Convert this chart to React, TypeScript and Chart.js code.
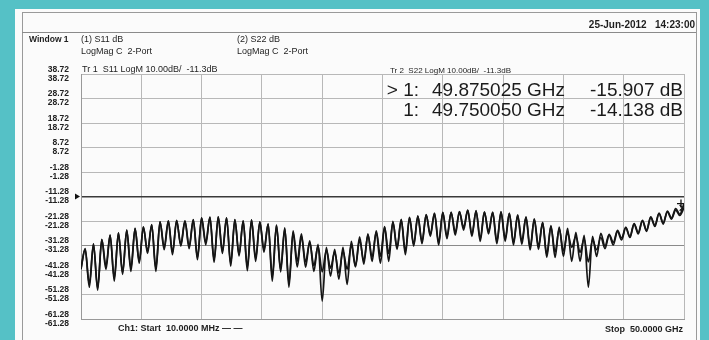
import React, { useEffect, useRef } from "react";
import { Chart, registerables } from "chart.js";

Chart.register(...registerables);

// ---- data ----
const START_GHZ = 0.01;
const STOP_GHZ = 50;
const REF_DB = -11.3;
const X_DIVISIONS = 10;
const yTicks = [-61.28, -51.28, -41.28, -31.28, -21.28, -11.28, -1.28, 8.72, 18.72, 28.72, 38.72];

// Tr 1: S11 LogM (peaks and dips of the ripple, in sweep order)
const s11Db = [
  -41.0,
  -32.8, -48.3, -30.8, -48.7, -28.8, -39.7, -27.1, -45.8, -26.1, -42.2,
  -25.1, -41.8, -24.3, -37.7, -23.7, -33.6, -22.7, -41.8, -21.6, -32.0,
  -21.2, -34.0, -21.2, -30.8, -21.2, -31.6, -20.8, -36.1, -20.0, -30.0,
  -19.8, -38.1, -19.6, -33.6, -20.0, -39.7, -20.8, -34.9, -21.2, -40.1,
  -20.8, -37.7, -21.6, -32.8, -22.5, -45.8, -22.9, -40.9, -24.1, -48.3,
  -25.3, -37.7, -26.5, -40.1, -29.4, -41.8, -30.8, -54.0, -32.0, -43.8,
  -32.8, -45.0, -32.0, -47.1, -29.6, -39.7, -27.7, -38.9, -26.5, -37.7,
  -25.3, -35.7, -23.5, -37.7, -21.4, -32.8, -20.8, -33.6, -19.8, -30.8,
  -19.4, -29.6, -18.8, -26.7, -18.0, -30.0, -17.8, -27.5, -17.8, -25.9,
  -17.4, -23.9, -16.8, -26.7, -17.2, -29.6, -17.6, -25.5, -17.6, -29.6,
  -17.6, -29.6, -18.0, -30.0, -19.0, -30.8, -19.6, -32.0, -20.6, -32.8,
  -21.8, -34.9, -23.1, -36.1, -23.7, -35.7, -24.3, -37.7, -25.9, -37.7,
  -27.1, -48.3, -27.5, -35.7, -26.3, -31.5, -26.7, -30.0, -25.1, -28.2,
  -23.9, -27.6, -22.3, -26.0, -21.0, -25.0, -19.6, -23.5, -18.2, -22.0,
  -17.5, -20.5, -16.8, -19.0,
  -15.9,
];

// Tr 2: S22 LogM
const s22Db = [
  -40.5,
  -32.5, -47.0, -30.6, -49.5, -28.9, -41.0, -27.0, -44.5, -26.2, -43.0,
  -25.0, -40.5, -24.4, -38.5, -23.6, -34.5, -22.8, -40.5, -21.5, -33.0,
  -21.3, -35.0, -21.0, -31.5, -21.3, -32.5, -20.7, -37.0, -20.1, -31.0,
  -19.7, -37.0, -19.7, -34.5, -20.1, -38.5, -20.7, -35.5, -21.3, -41.5,
  -20.9, -36.5, -21.7, -34.0, -22.4, -44.0, -23.0, -42.0, -24.5, -46.5,
  -26.0, -40.0, -27.5, -38.0, -30.0, -39.5, -31.5, -42.0, -33.0, -40.5,
  -34.0, -42.5, -33.5, -41.0, -31.0, -40.0, -29.0, -37.5, -27.0, -36.0,
  -25.8, -38.5, -23.8, -34.5, -21.8, -32.0, -20.6, -35.0, -19.9, -31.5,
  -19.2, -30.5, -18.7, -27.5, -18.2, -31.0, -17.7, -28.5, -17.6, -27.0,
  -17.5, -25.0, -16.9, -27.5, -17.0, -28.5, -17.5, -26.5, -17.8, -30.5,
  -17.4, -28.5, -18.2, -31.0, -18.8, -29.5, -19.8, -33.0, -20.4, -31.5,
  -22.0, -36.0, -23.5, -34.0, -24.5, -33.5, -26.0, -32.0, -27.5, -34.0,
  -28.5, -38.0, -29.0, -33.0, -28.0, -32.5, -27.0, -31.0, -25.5, -29.0,
  -24.0, -28.0, -22.5, -26.5, -21.2, -25.5, -19.8, -23.0, -18.0, -22.5,
  -17.2, -20.0, -16.2, -18.5,
  -14.1,
];

const markerGHz = [49.875025, 49.75005];
const markerDb = [-15.907, -14.138];
const markerLabels = ["> 1:", "1:"];

// ---- styles ----
const FONT = '"Liberation Sans", Arial, sans-serif';
const TEAL = "#55c1c6";
const INK = "#151515";

const sweep = (n: number) =>
  Array.from({ length: n }, (_, i) => START_GHZ + (i * (STOP_GHZ - START_GHZ)) / (n - 1));

const refPointer = {
  id: "refPointer",
  afterDraw(chart: any) {
    const { ctx, chartArea, scales } = chart;
    const y = scales.y.getPixelForValue(REF_DB);
    const x = chartArea.left;
    ctx.save();
    ctx.fillStyle = "#111";
    ctx.beginPath();
    ctx.moveTo(x - 6, y - 3);
    ctx.lineTo(x - 1, y);
    ctx.lineTo(x - 6, y + 3);
    ctx.closePath();
    ctx.fill();
    ctx.restore();
  },
};

function T(props: {
  x: number;
  y: number;
  size?: number;
  bold?: boolean;
  right?: boolean;
  color?: string;
  children: React.ReactNode;
}) {
  const { x, y, size = 9, bold = false, right = false, color = "#1e1e1e", children } = props;
  const style: React.CSSProperties = {
    position: "absolute",
    top: y,
    transform: "translateY(-50%)",
    fontFamily: FONT,
    fontSize: size,
    fontWeight: bold ? 700 : 400,
    color,
    whiteSpace: "pre",
    lineHeight: 1,
  };
  if (right) style.right = 709 - x;
  else style.left = x;
  return <div style={style}>{children}</div>;
}

export default function App() {
  const canvasRef = useRef<HTMLCanvasElement | null>(null);

  useEffect(() => {
    if (!canvasRef.current) return;
    const f11 = sweep(s11Db.length);
    const f22 = sweep(s22Db.length);
    const chart = new Chart(canvasRef.current, {
      type: "line",
      data: {
        datasets: [
          {
            label: "S22",
            data: s22Db.map((v, i) => ({ x: f22[i], y: v })),
            borderColor: INK,
            borderWidth: 1.7,
            pointRadius: 0,
            cubicInterpolationMode: "monotone",
          },
          {
            label: "S11",
            data: s11Db.map((v, i) => ({ x: f11[i], y: v })),
            borderColor: INK,
            borderWidth: 1.7,
            pointRadius: 0,
            cubicInterpolationMode: "monotone",
          },
          {
            label: "Markers",
            type: "scatter",
            data: markerDb.map((v, i) => ({ x: markerGHz[i], y: v })),
            showLine: false,
            pointStyle: ["crossRot", "cross"],
            pointRadius: 4,
            borderColor: "#111",
            borderWidth: 1.3,
          } as any,
        ],
      },
      options: {
        animation: false,
        responsive: false,
        maintainAspectRatio: false,
        layout: { padding: { left: 21, top: 74, right: 25, bottom: 20 } },
        plugins: { legend: { display: false }, tooltip: { enabled: false } },
        scales: {
          x: {
            type: "linear",
            min: START_GHZ,
            max: STOP_GHZ,
            afterBuildTicks: (axis: any) => {
              axis.ticks = Array.from({ length: X_DIVISIONS + 1 }, (_, j) => ({
                value: START_GHZ + (j * (STOP_GHZ - START_GHZ)) / X_DIVISIONS,
              }));
            },
            afterFit: (s: any) => {
              s.height = 0;
            },
            ticks: { display: false },
            grid: { color: "#b8b8b8", drawTicks: false, lineWidth: 1 },
            border: { display: true, color: "#999" },
          },
          y: {
            type: "linear",
            min: yTicks[0],
            max: yTicks[yTicks.length - 1],
            afterBuildTicks: (axis: any) => {
              axis.ticks = yTicks.map((v) => ({ value: v }));
            },
            afterFit: (s: any) => {
              s.width = 60;
            },
            ticks: {
              padding: 12,
              color: "#222",
              font: { family: FONT, size: 8.5, weight: "bold", lineHeight: 1.05 },
              callback: (v: any) => {
                const s = Number(v).toFixed(2);
                return [s, s];
              },
            },
            grid: {
              drawTicks: false,
              color: (ctx: any) => {
                const v = ctx.tick ? ctx.tick.value : 0;
                if (Math.abs(v + 11.28) < 0.01) return "#3a3a3a";
                if (Math.abs(v + 31.28) < 0.01) return "#8a8a8a";
                return "#b8b8b8";
              },
              lineWidth: (ctx: any) => {
                const v = ctx.tick ? ctx.tick.value : 0;
                return Math.abs(v + 11.28) < 0.01 ? 1.4 : 1;
              },
            },
            border: { display: true, color: "#999" },
          },
        },
      },
      plugins: [refPointer],
    });
    return () => chart.destroy();
  }, []);

  return (
    <div
      style={{
        position: "fixed",
        left: 0,
        top: 0,
        width: 709,
        height: 340,
        background: TEAL,
        overflow: "hidden",
      }}
    >
      <div
        style={{
          position: "absolute",
          left: 15,
          top: 9,
          width: 685,
          height: 340,
          background: "#fbfbfb",
        }}
      />
      <div
        style={{
          position: "absolute",
          left: 22,
          top: 12,
          width: 673,
          height: 400,
          border: "1px solid #9a9a9a",
        }}
      />
      <div
        style={{
          position: "absolute",
          left: 22,
          top: 32,
          width: 674,
          height: 0,
          borderTop: "1px solid #8a8a8a",
        }}
      />
      <canvas
        ref={canvasRef}
        width={709}
        height={340}
        style={{ position: "absolute", left: 0, top: 0, width: 709, height: 340 }}
      />
      <T x={695} y={25} size={10} bold right>
        {"25-Jun-2012   14:23:00"}
      </T>
      <T x={29} y={39} size={8.5} bold>
        Window 1
      </T>
      <T x={81} y={39} size={9}>
        (1) S11 dB
      </T>
      <T x={81} y={51} size={9}>
        {"LogMag C  2-Port"}
      </T>
      <T x={237} y={39} size={9}>
        (2) S22 dB
      </T>
      <T x={237} y={51} size={9}>
        {"LogMag C  2-Port"}
      </T>
      <T x={82} y={69} size={9}>
        {"Tr 1  S11 LogM 10.00dB/  -11.3dB"}
      </T>
      <T x={390} y={71} size={8}>
        {"Tr 2  S22 LogM 10.00dB/  -11.3dB"}
      </T>
      {markerLabels.map((lab, i) => (
        <React.Fragment key={lab}>
          <T x={419} y={89 + i * 19.5} size={19} right color="#1a1a1a">
            {lab}
          </T>
          <T x={432} y={89 + i * 19.5} size={19} color="#1a1a1a">
            {markerGHz[i].toFixed(6) + " GHz"}
          </T>
          <T x={683} y={89 + i * 19.5} size={19} right color="#1a1a1a">
            {markerDb[i].toFixed(3) + " dB"}
          </T>
        </React.Fragment>
      ))}
      <T x={118} y={328} size={9} bold>
        {"Ch1: Start  10.0000 MHz \u2014 \u2014"}
      </T>
      <T x={683} y={329} size={9} bold right>
        {"Stop  50.0000 GHz"}
      </T>
    </div>
  );
}
